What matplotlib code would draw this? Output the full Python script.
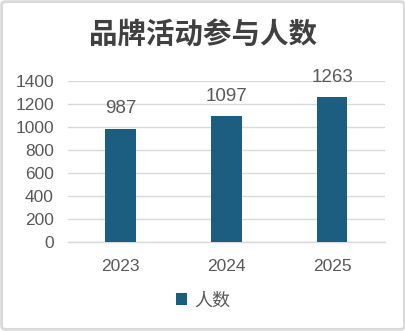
import matplotlib
matplotlib.use("Agg")
import matplotlib.pyplot as plt
from matplotlib.patches import FancyBboxPatch

years = ["2023", "2024", "2025"]
counts = [987, 1097, 1263]
series_name = "人数"
title = "品牌活动参与人数"

plt.rcParams['font.family'] = ['Liberation Sans', 'Noto Sans CJK SC', 'DejaVu Sans']

bar_color = "#1b5e80"
text_color = "#595959"
grid_color = "#d9d9d9"

fig = plt.figure(figsize=(4.06, 3.31), dpi=100)
ax = fig.add_axes([0.167, 0.269, 0.781, 0.486])

x = range(len(years))
bars = ax.bar(x, counts, width=0.29, color=bar_color, label=series_name, zorder=3)

for xi, v in zip(x, counts):
    ax.annotate(str(v), (xi, v), xytext=(0, 8), textcoords="offset points",
                ha="center", va="bottom", fontsize=13.5, color=text_color)

ax.set_xlim(-0.5, len(years) - 0.5)
ax.set_ylim(0, 1400)
ax.set_yticks(range(0, 1401, 200))
ax.set_xticks(list(x))
ax.set_xticklabels(years)
ax.yaxis.grid(True, color=grid_color, linewidth=1, zorder=0)
ax.tick_params(axis="both", length=0, labelsize=12.5, labelcolor=text_color)
ax.tick_params(axis="x", pad=12)
ax.tick_params(axis="y", pad=10)
for s in ["top", "right", "left"]:
    ax.spines[s].set_visible(False)
ax.spines["bottom"].set_color(grid_color)
ax.spines["bottom"].set_linewidth(1)

fig.text(0.5, 0.893, title, ha="center", va="center", fontsize=20.5, weight="bold",
         color="#404040", family=['Noto Sans CJK SC', 'DejaVu Sans'])

leg = fig.legend(loc="center", bbox_to_anchor=(0.5, 0.093), frameon=False,
                 handlelength=0.6, handleheight=0.6, handletextpad=0.4,
                 prop={'family': ['Noto Sans CJK SC', 'DejaVu Sans'], 'size': 13})
for t in leg.get_texts():
    t.set_color(text_color)

border = FancyBboxPatch((0.004, 0.005), 0.992, 0.99, boxstyle="round,pad=0,rounding_size=0.01",
                        transform=fig.transFigure, fill=False, edgecolor=grid_color,
                        linewidth=2)
fig.patches.append(border)

fig.savefig("out.png", dpi=100)
